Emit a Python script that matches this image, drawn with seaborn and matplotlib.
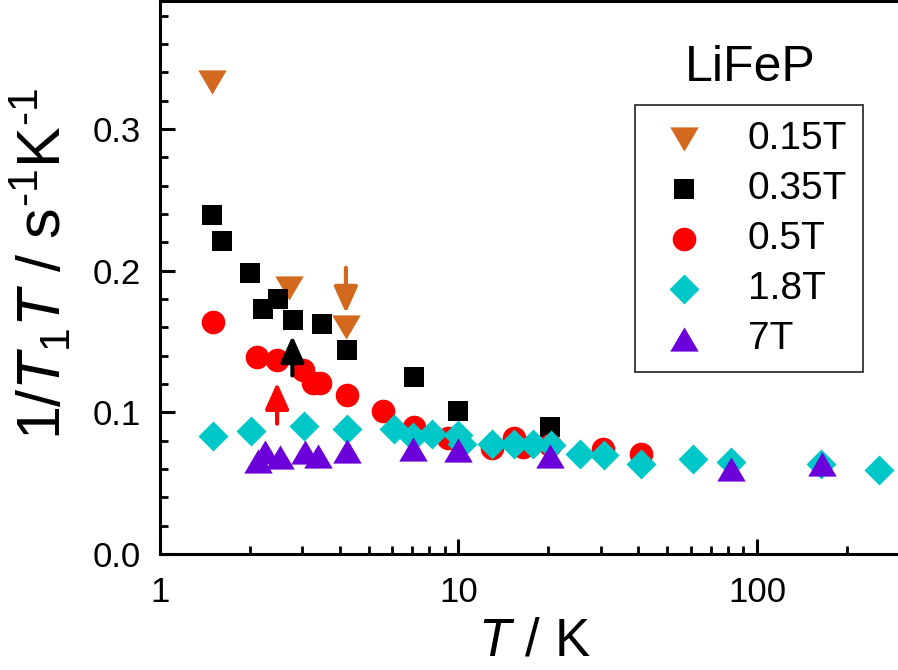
import numpy as np
import pandas as pd
import matplotlib
matplotlib.use("Agg")
import matplotlib.pyplot as plt
import matplotlib.ticker as mticker
from matplotlib.markers import MarkerStyle
import seaborn as sns

# --- data: 1/T1T vs T for several fields ---
labels = ["0.15T", "0.35T", "0.5T", "1.8T", "7T"]

T_015 = [1.5, 2.7, 4.2]
r_015 = [0.333, 0.188, 0.160]

T_035 = [1.49, 1.62, 2.0, 2.22, 2.49, 2.8, 3.49, 4.24, 7.1, 10.0, 20.3]
r_035 = [0.239, 0.221, 0.198, 0.173, 0.180, 0.165, 0.162, 0.144, 0.125, 0.101, 0.0896]

T_05 = [1.51, 2.12, 2.47, 3.01, 3.25, 3.45, 4.24, 5.6, 7.08, 9.2,
        13.0, 15.3, 16.5, 20.2, 30.5, 40.9]
r_05 = [0.164, 0.139, 0.137, 0.130, 0.121, 0.121, 0.112, 0.101, 0.090, 0.082,
        0.075, 0.082, 0.0756, 0.077, 0.0744, 0.0709]

T_18 = [1.51, 2.02, 3.04, 4.25, 6.1, 7.06, 8.13, 10.0, 10.3, 13.0, 15.3, 17.8,
        20.4, 25.5, 30.8, 40.9, 61, 82, 164, 257]
r_18 = [0.0833, 0.0866, 0.0904, 0.088, 0.0885, 0.0826, 0.085, 0.0838, 0.0775, 0.078,
        0.078, 0.078, 0.0768, 0.0709, 0.0697, 0.0639, 0.0674, 0.065, 0.0636, 0.0592]

T_7 = [2.14, 2.25, 2.53, 3.06, 3.39, 4.24, 7.06, 10.0, 20.2, 81.8, 164.8]
r_7 = [0.0658, 0.0718, 0.0682, 0.072, 0.069, 0.073, 0.0739, 0.0732, 0.0693, 0.0603, 0.0636]

# vertical arrows marking the transitions
arrow_T = [4.2, 2.78, 2.47]
arrow_from = [0.202, 0.126, 0.092]
arrow_to = [0.170, 0.154, 0.121]

colors = ["#D2691E", "#000000", "#FF0000", "#00C8C8", "#6B00DB"]
arrow_colors = ["#D2691E", "#000000", "#FF0000"]

sns.set_style("ticks")
plt.rcParams["font.family"] = ["Liberation Sans", "DejaVu Sans"]
plt.rcParams["mathtext.fontset"] = "custom"
plt.rcParams["mathtext.rm"] = "Liberation Sans"
plt.rcParams["mathtext.it"] = "Liberation Sans:italic"
for key in ["text.color", "axes.labelcolor", "xtick.color", "ytick.color", "axes.edgecolor"]:
    plt.rcParams[key] = "black"

tri_down = MarkerStyle([(0, -0.85), (-1, 0.85), (1, 0.85)])
tri_up = MarkerStyle([(0, 0.85), (-1, -0.85), (1, -0.85)])
markers = [tri_down, "s", "o", "D", tri_up]
sizes = [420, 225, 289, 234, 420]

series = [(T_015, r_015), (T_035, r_035), (T_05, r_05), (T_18, r_18), (T_7, r_7)]

fig = plt.figure(figsize=(8.98, 6.70), dpi=100)
ax = fig.add_axes([0.178, 0.173, 0.822, 0.825])

for (T, r), lab, c, m, s in zip(series, labels, colors, markers, sizes):
    df = pd.DataFrame({"T": T, "rate": r})
    sns.scatterplot(data=df, x="T", y="rate", ax=ax, marker=m, s=s, color=c,
                    linewidth=0, label=lab, zorder=3)

for x, y0, y1, c in zip(arrow_T, arrow_from, arrow_to, arrow_colors):
    ax.annotate("", xy=(x, y1), xytext=(x, y0),
                arrowprops=dict(arrowstyle="-|>,head_length=0.8,head_width=0.36",
                                mutation_scale=20, color=c, lw=3,
                                shrinkA=0, shrinkB=0), zorder=4)

ax.set_xscale("log")
ax.set_xlim(1, 296.8)
ax.set_ylim(0, 0.39)
ax.xaxis.set_major_locator(mticker.FixedLocator([1, 10, 100]))
ax.xaxis.set_major_formatter(mticker.FuncFormatter(lambda v, p: f"{v:g}"))
ax.xaxis.set_minor_locator(mticker.LogLocator(base=10, subs=np.arange(2, 10)))
ax.xaxis.set_minor_formatter(mticker.NullFormatter())
ax.yaxis.set_major_locator(mticker.MultipleLocator(0.1))
ax.yaxis.set_minor_locator(mticker.MultipleLocator(0.02))
ax.yaxis.set_major_formatter(mticker.FormatStrFormatter("%.1f"))

ax.tick_params(which="major", direction="in", length=11, width=2.2, labelsize=25)
ax.tick_params(axis="y", which="major", pad=14)
ax.tick_params(axis="x", which="major", pad=16)
ax.tick_params(which="minor", direction="in", length=6, width=2.0)
ax.tick_params(axis="x", which="both", top=False)
ax.tick_params(axis="y", which="both", right=False)
for side in ["left", "bottom", "top"]:
    ax.spines[side].set_linewidth(2.2)
ax.spines["right"].set_visible(False)

ax.set_xlabel(r"$\mathit{T}$ / K", fontsize=38, va="center")
ax.xaxis.set_label_coords(0.507, -0.158)
ax.set_ylabel(r"1/$\mathit{T}_1\mathit{T}$ / s$^{\text{-1}}$K$^{\text{-1}}$",
              fontsize=44, va="center")
ax.yaxis.set_label_coords(-0.16, 0.525)

leg = ax.legend(loc="upper left", bbox_to_anchor=(0.644, 0.812), fontsize=28,
                frameon=True, fancybox=False, edgecolor="black", borderaxespad=0,
                handletextpad=0.8, labelspacing=0.36, borderpad=0.4,
                handlelength=1.7, scatterpoints=1)
leg.get_frame().set_linewidth(1.3)
ax.text(0.8, 0.879, "LiFeP", transform=ax.transAxes, fontsize=36,
        ha="center", va="center")

fig.savefig("out.png", dpi=100)
